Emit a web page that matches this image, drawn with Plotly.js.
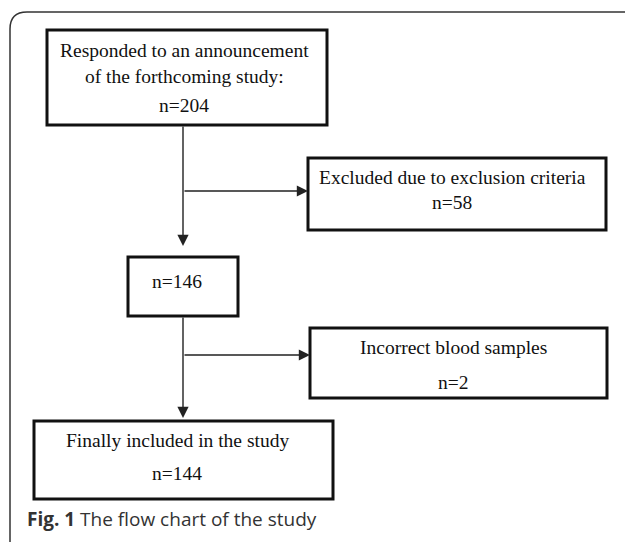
<!DOCTYPE html>
<html>
<head>
<meta charset="utf-8">
<script src="https://cdn.plot.ly/plotly-3.0.1.min.js"></script>
<style>html,body{margin:0;padding:0;background:#fff;}#chart{width:625px;height:542px;}</style>
</head>
<body>
<div id="chart"></div>
<script>
// ---- Data ----
var stepLabels = [
  ["Responded to an announcement", "of the forthcoming study:"],
  ["Excluded due to exclusion criteria"],
  [],
  ["Incorrect blood samples"],
  ["Finally included in the study"]
];
var stepCounts = [204, 58, 146, 2, 144];
var captionBold = "Fig. 1";
var captionText = "The flow chart of the study";

// ---- Layout geometry (pixels, y downwards) ----
var boxes = [
  {x0: 47, x1: 327, y0: 30, y1: 125, lines: [50, 76], ny: 105, cx: 184},
  {x0: 308, x1: 606, y0: 158, y1: 230, lines: [177], ny: 202, cx: 452},
  {x0: 128, x1: 238, y0: 257, y1: 316, lines: [], ny: 281, cx: 177},
  {x0: 310, x1: 607, y0: 328, y1: 398, lines: [347], ny: 382, cx: 453},
  {x0: 34, x1: 333, y0: 421, y1: 499, lines: [440], ny: 473, cx: 177}
];
var spineX = 183;

var shapes = [];
var annotations = [];
var serif = {family: "Liberation Serif, Times New Roman, serif", size: 19.5, color: "#111"};

// outer frame
shapes.push({type: "path", xref: "x", yref: "y",
  path: "M 10 545 L 10 29 Q 10 12 27 12 L 630 12",
  line: {color: "#333", width: 1.5}});

boxes.forEach(function (b, i) {
  shapes.push({type: "rect", xref: "x", yref: "y", x0: b.x0, x1: b.x1, y0: b.y0, y1: b.y1,
    line: {color: "#111", width: 3}, fillcolor: "rgba(0,0,0,0)"});
  stepLabels[i].forEach(function (t, k) {
    annotations.push({x: b.cx, y: b.lines[k], xref: "x", yref: "y", text: t, showarrow: false,
      font: serif, xanchor: "center", yanchor: "middle"});
  });
  annotations.push({x: b.cx, y: b.ny, xref: "x", yref: "y", text: "n=" + stepCounts[i], showarrow: false,
    font: serif, xanchor: "center", yanchor: "middle"});
});

function arrow(x0, y0, x1, y1) {
  annotations.push({x: x1, y: y1, ax: x0, ay: y0, xref: "x", yref: "y", axref: "x", ayref: "y",
    text: "", showarrow: true, arrowhead: 2, arrowsize: 1.6, arrowwidth: 1.4, arrowcolor: "#222",
    standoff: 0, startstandoff: 0});
}
// vertical arrows
arrow(spineX, 125, spineX, 246);
arrow(spineX, 316, spineX, 418);
// side arrows
arrow(spineX, 191, 308, 191);
arrow(spineX, 355, 310, 355);

// caption
annotations.push({x: 25, y: 519, xref: "x", yref: "y", xanchor: "left", yanchor: "middle", showarrow: false,
  text: "<b>" + captionBold + "</b> " + captionText,
  font: {family: "Open Sans, Noto Sans, sans-serif", size: 19, color: "#333"}});

var layout = {
  width: 625, height: 542,
  margin: {l: 0, r: 0, t: 0, b: 0},
  paper_bgcolor: "#fff", plot_bgcolor: "#fff",
  xaxis: {range: [0, 625], visible: false, fixedrange: true},
  yaxis: {range: [542, 0], visible: false, fixedrange: true},
  shapes: shapes, annotations: annotations, showlegend: false
};
Plotly.newPlot("chart", [{x: [], y: [], type: "scatter"}], layout, {displayModeBar: false, staticPlot: true});
</script>
</body>
</html>
